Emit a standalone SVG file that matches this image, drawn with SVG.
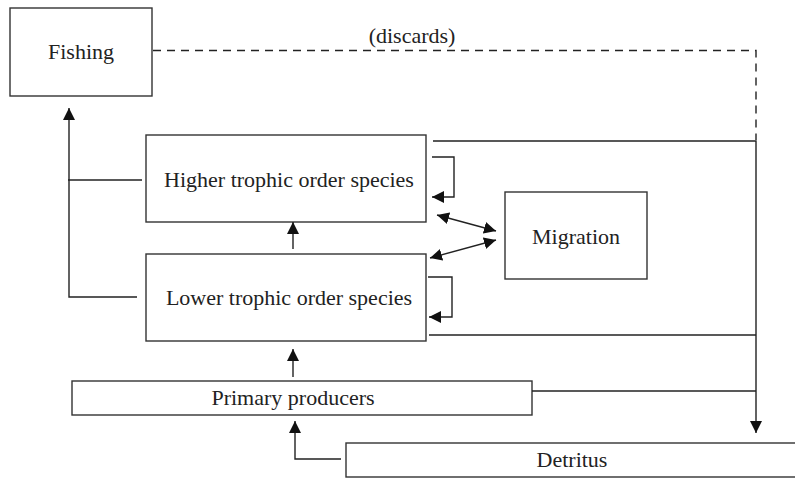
<svg xmlns="http://www.w3.org/2000/svg" width="795" height="478" viewBox="0 0 795 478">
<style>
.box{fill:#fff;stroke:#333;stroke-width:1.4}
.ln{fill:none;stroke:#222;stroke-width:1.4}
.dash{fill:none;stroke:#222;stroke-width:1.4;stroke-dasharray:8,6}
.t{font-family:'Liberation Serif','Times New Roman',serif;font-size:22px;fill:#222;text-anchor:middle}
</style>
<defs>
<marker id="ah" viewBox="0 0 12 12" refX="12" refY="6" markerWidth="12" markerHeight="12" markerUnits="userSpaceOnUse" orient="auto-start-reverse">
<path d="M0,0 L12,6 L0,12 z" fill="#111"/>
</marker>
</defs>
<rect width="795" height="478" fill="#fff"/>
<g id="fishing"><rect class="box" x="10" y="8" width="142" height="88"/><text class="t" x="81" y="59">Fishing</text></g>
<g id="higher"><rect class="box" x="146" y="135" width="280" height="87"/><text class="t" x="289" y="187">Higher trophic order species</text></g>
<g id="lower"><rect class="box" x="146" y="254" width="280" height="87"/><text class="t" x="289" y="305">Lower trophic order species</text></g>
<g id="migration"><rect class="box" x="505" y="192" width="142" height="87"/><text class="t" x="576" y="244">Migration</text></g>
<g id="primary"><rect class="box" x="72" y="381" width="460" height="34"/><text class="t" x="293" y="405">Primary producers</text></g>
<g id="detritus"><rect class="box" x="346" y="443" width="460" height="34"/><text class="t" x="572" y="467">Detritus</text></g>
<g id="connectors">
<path class="dash" d="M153,50.5 H756 V140"/>
<text class="t" x="412" y="43">(discards)</text>
<path class="ln" d="M68,180 H142"/>
<path class="ln" d="M137,297 H69 V108" marker-end="url(#ah)"/>
<path class="ln" d="M293,249 V222" marker-end="url(#ah)"/>
<path class="ln" d="M293,377 V349" marker-end="url(#ah)"/>
<path class="ln" d="M341,459 H295 V421" marker-end="url(#ah)"/>
<path class="ln" d="M433,141 H756 V433" marker-end="url(#ah)"/>
<path class="ln" d="M429,335 H756"/>
<path class="ln" d="M532,391 H756"/>
<path class="ln" d="M432,157 H454 V197 H432" marker-end="url(#ah)"/>
<path class="ln" d="M428,277 H452 V317 H429" marker-end="url(#ah)"/>
<path class="ln" d="M437,215 L496,231" marker-start="url(#ah)" marker-end="url(#ah)"/>
<path class="ln" d="M430,258 L496,240" marker-start="url(#ah)" marker-end="url(#ah)"/>
</g>
</svg>
